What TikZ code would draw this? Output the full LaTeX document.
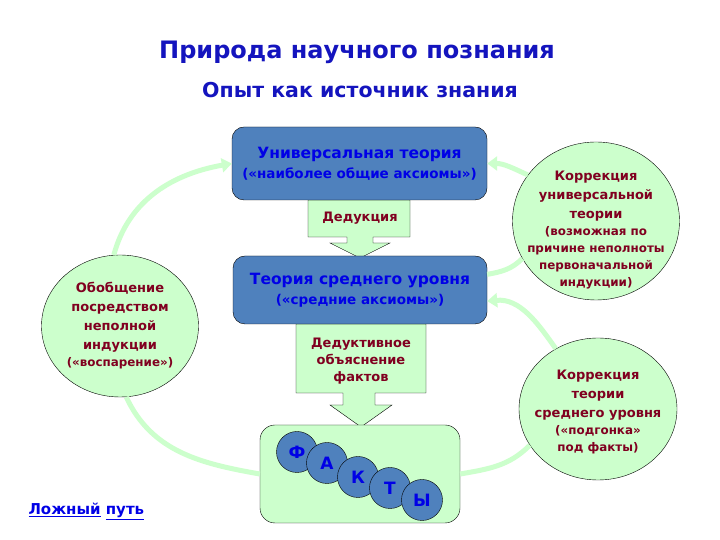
\documentclass[tikz,border=0pt]{standalone}
\usepackage{fontspec}
\setmainfont{DejaVu Sans}
\usetikzlibrary{shapes.geometric,arrows.meta}
\definecolor{boxblue}{RGB}{79,129,189}
\definecolor{textblue}{RGB}{0,0,230}
\definecolor{titleblue}{RGB}{20,20,190}
\definecolor{darkred}{RGB}{128,0,32}
\definecolor{palegreen}{RGB}{204,255,204}
\newcommand{\sm}{\fontsize{11.9}{17}\selectfont}
\newcommand{\sub}{\fontsize{13.5}{19}\selectfont}
\begin{document}
\begin{tikzpicture}[x=1pt,y=1pt]
    \tikzstyle{theory}=[rectangle, rounded corners=12pt, draw=black, fill=boxblue, text=textblue, align=center, font=\fontsize{15.5}{20}\selectfont\bfseries]
    \tikzstyle{bubble}=[ellipse, draw=black, fill=palegreen, inner sep=0pt]
    \tikzstyle{note}=[text=darkred, align=center, font=\fontsize{13}{19}\selectfont\bfseries]
    \tikzstyle{letter}=[circle, draw=black, fill=boxblue, minimum size=41pt, inner sep=0pt, text=textblue, font=\fontsize{17}{17}\selectfont\bfseries]
    \tikzstyle{link}=[draw=palegreen, line width=5pt]
    \tikzstyle{linkarrow}=[link, -{Triangle[width=14pt,length=10pt]}]
    \tikzstyle{blockarrow}=[draw=black, fill=palegreen]

    \useasboundingbox (0,0) rectangle (720,540);
    \fill[white] (0,0) rectangle (720,540);

    % titles
    \node[text=titleblue, font=\fontsize{24}{24}\selectfont\bfseries] (title) at (357,488) {Природа научного познания};
    \node[text=titleblue, font=\fontsize{20.5}{20}\selectfont\bfseries] (subtitle) at (360,450) {Опыт как источник знания};

    % block arrows (deduction)
    \draw[blockarrow] (308,340) -- (410,340) -- (410,303) -- (373,303) -- (373,297) -- (390,297)
        -- (360,282) -- (330,297) -- (347,297) -- (347,303) -- (308,303) -- cycle;
    \draw[blockarrow] (296,216) -- (426,216) -- (426,147) -- (375,147) -- (375,135) -- (392,135)
        -- (361,113) -- (330,135) -- (343,135) -- (343,147) -- (296,147) -- cycle;
    \node[note] (deduction) at (360,322) {Дедукция};
    \node[note] (explain) at (361,179) {Дедуктивное\\[-2pt]объяснение\\[-2pt]фактов};

    % theories
    \node[theory, minimum width=255pt, minimum height=73pt] (universal) at (359.5,376.5)
        {Универсальная теория\\\sub («наиболее общие аксиомы»)};
    \node[theory, minimum width=254pt, minimum height=68pt] (middle) at (360,250)
        {Теория среднего уровня\\\sub («средние аксиомы»)};

    % facts
    \node[rectangle, rounded corners=15pt, draw=black, fill=palegreen, minimum width=200pt, minimum height=98pt] (facts) at (360,66) {};
    \node[letter] (f1) at (297,88) {Ф};
    \node[letter] (f2) at (327,77) {А};
    \node[letter] (f3) at (358,63) {К};
    \node[letter] (f4) at (390,52) {Т};
    \node[letter] (f5) at (422,40) {Ы};

    % bubbles
    \node[bubble, minimum width=157pt, minimum height=142pt] (induction) at (120,214) {};
    \node[note] (inductiontext) at (induction) {Обобщение\\посредством\\неполной\\индукции\\[-2pt]\sm(«воспарение»)};
    \node[bubble, minimum width=167pt, minimum height=158pt] (fixuniv) at (596,319) {};
    \node[note] (fixunivtext) at ([yshift=-9pt]fixuniv.center) {Коррекция\\универсальной\\теории\\[-2pt]\sm (возможная по\\[-2pt]\sm причине неполноты\\[-2pt]\sm первоначальной\\[-2pt]\sm индукции)};
    \node[bubble, minimum width=158pt, minimum height=142pt] (fixmid) at (598,131) {};
    \node[note] (fixmidtext) at ([yshift=-3pt]fixmid.center) {Коррекция\\теории\\среднего уровня\\[-2pt]\sm(«подгонка»\\[-2pt]\sm под факты)};

    % cycle
    \draw[linkarrow] (induction.95) to[out=75, in=190] (universal.west);
    \draw[link] (facts.west) to[out=170, in=-65] (induction.275);
    \draw[linkarrow] (fixuniv.146) to[out=155, in=0] (universal.east);
    \draw[link] (middle.7) to[out=10, in=225] (fixuniv.207);
    \draw[linkarrow] (fixmid.125) to[out=125, in=5] (middle.-5);
    \draw[link] (facts.east) to[out=10, in=225] (fixmid.208);

    \node[anchor=base west, text=textblue, font=\fontsize{15}{15}\selectfont\bfseries] (falsepath) at (25,25) {\underline{Ложный} \underline{путь}};
\end{tikzpicture}
\end{document}
